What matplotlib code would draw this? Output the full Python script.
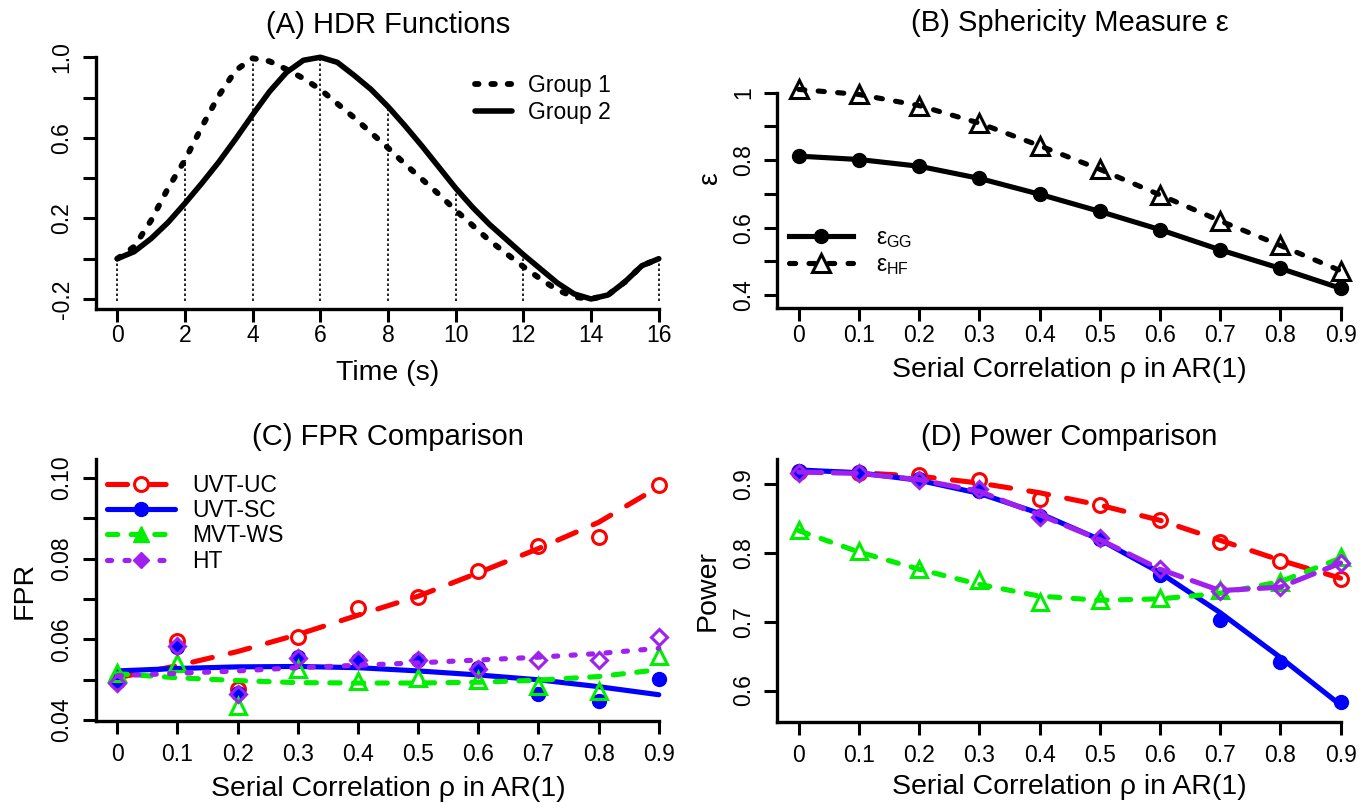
import numpy as np
import matplotlib
matplotlib.use('Agg')
import matplotlib.pyplot as plt
from matplotlib.lines import Line2D

plt.rcParams['font.family'] = ['Liberation Sans', 'DejaVu Sans']

# ---- (A) HDR functions, values read every 0.5 s ----
time_s = [0, 0.5, 1, 1.5, 2, 2.5, 3, 3.5, 4, 4.5, 5, 5.5, 6, 6.5, 7, 7.5, 8,
          8.5, 9, 9.5, 10, 10.5, 11, 11.5, 12, 12.5, 13, 13.5, 14, 14.5, 15, 15.5, 16]
group1 = [0.0, 0.06, 0.19, 0.35, 0.49, 0.655, 0.81, 0.935, 0.995, 0.98, 0.94, 0.895,
          0.84, 0.77, 0.70, 0.625, 0.55, 0.47, 0.395, 0.32, 0.24, 0.165, 0.09, 0.025,
          -0.04, -0.10, -0.155, -0.19, -0.2, -0.18, -0.115, -0.035, 0.0]
group2 = [0.0, 0.035, 0.10, 0.18, 0.275, 0.375, 0.48, 0.595, 0.715, 0.83, 0.925, 0.985,
          1.0, 0.975, 0.91, 0.84, 0.755, 0.66, 0.56, 0.455, 0.35, 0.255, 0.17, 0.095,
          0.02, -0.05, -0.12, -0.175, -0.2, -0.18, -0.115, -0.035, 0.0]
time_ticks = [0, 2, 4, 6, 8, 10, 12, 14, 16]

# ---- serial correlation grid ----
rho = [0, 0.1, 0.2, 0.3, 0.4, 0.5, 0.6, 0.7, 0.8, 0.9]
rho_labels = ['0', '0.1', '0.2', '0.3', '0.4', '0.5', '0.6', '0.7', '0.8', '0.9']

# ---- (B) sphericity ----
eps_gg = [0.812, 0.802, 0.782, 0.746, 0.699, 0.648, 0.594, 0.534, 0.479, 0.420]
eps_hf = [1.010, 0.995, 0.962, 0.910, 0.843, 0.773, 0.697, 0.620, 0.547, 0.472]

# ---- (C) FPR: observed points and smoothed curves ----
fpr_uc = [0.0497, 0.0597, 0.0477, 0.0606, 0.0679, 0.0705, 0.0770, 0.0832, 0.0853, 0.0983]
fpr_sc = [0.0500, 0.0581, 0.0467, 0.0556, 0.0548, 0.0548, 0.0530, 0.0464, 0.0448, 0.0502]
fpr_ws = [0.0518, 0.0541, 0.0436, 0.0526, 0.0497, 0.0505, 0.0499, 0.0485, 0.0472, 0.0559]
fpr_ht = [0.0493, 0.0584, 0.0464, 0.0555, 0.0548, 0.0550, 0.0526, 0.0550, 0.0548, 0.0607]
fpr_uc_fit = [0.0505, 0.0535, 0.0570, 0.0612, 0.0660, 0.0707, 0.0765, 0.0825, 0.0890, 0.0978]
fpr_sc_fit = [0.0522, 0.0528, 0.0532, 0.0533, 0.0530, 0.0522, 0.0512, 0.0500, 0.0483, 0.0463]
fpr_ws_fit = [0.0515, 0.0505, 0.0498, 0.0493, 0.0492, 0.0492, 0.0494, 0.0499, 0.0508, 0.0525]
fpr_ht_fit = [0.0510, 0.0516, 0.0522, 0.0530, 0.0536, 0.0542, 0.0549, 0.0556, 0.0565, 0.0578]

# ---- (D) power: observed points and smoothed curves ----
pow_uc = [0.917, 0.916, 0.912, 0.905, 0.878, 0.869, 0.847, 0.815, 0.788, 0.762]
pow_sc = [0.918, 0.917, 0.907, 0.890, 0.853, 0.820, 0.767, 0.702, 0.642, 0.584]
pow_ws = [0.833, 0.803, 0.777, 0.761, 0.729, 0.731, 0.735, 0.746, 0.757, 0.794]
pow_ht = [0.916, 0.916, 0.906, 0.892, 0.852, 0.821, 0.777, 0.745, 0.750, 0.785]
pow_uc_fit = [0.918, 0.916, 0.911, 0.901, 0.887, 0.869, 0.847, 0.818, 0.789, 0.763]
pow_sc_fit = [0.920, 0.916, 0.905, 0.886, 0.857, 0.819, 0.771, 0.713, 0.648, 0.579]
pow_ws_fit = [0.832, 0.801, 0.776, 0.754, 0.737, 0.731, 0.733, 0.741, 0.758, 0.792]
pow_ht_fit = [0.917, 0.915, 0.906, 0.889, 0.855, 0.819, 0.776, 0.745, 0.750, 0.785]

RED = '#FF0000'
BLUE = '#0000FF'
GREEN = '#00EE00'
PURPLE = '#A020F0'
LW = 3.7


def r_axes(ax, xlim, ylim, xticks, xlabels, yticks, ylabels, xtop, ytop, xpad):
    # R style: only left/bottom axis lines, rotated y labels
    ax.set_xlim(xlim)
    ax.set_ylim(ylim)
    for s in ['top', 'right']:
        ax.spines[s].set_visible(False)
    for s in ['left', 'bottom']:
        ax.spines[s].set_linewidth(2.4)
    ax.spines['left'].set_bounds(ylim[0], ytop)
    ax.spines['bottom'].set_bounds(xlim[0], xtop)
    ax.set_xticks(xticks, xlabels)
    ax.set_yticks(yticks, ylabels, rotation=90, va='center')
    ax.tick_params(length=9.4, width=2.2, labelsize=16.5)
    ax.tick_params(axis='x', pad=xpad)
    ax.tick_params(axis='y', pad=6.5)


fig = plt.figure(figsize=(13.68, 8.08), dpi=100)
axA = fig.add_axes([0.0699, 0.6180, 0.4275, 0.3231])
axB = fig.add_axes([0.5680, 0.6184, 0.4278, 0.3227])
axC = fig.add_axes([0.0699, 0.1077, 0.4275, 0.3243])
axD = fig.add_axes([0.5680, 0.1061, 0.4278, 0.3259])

# (A)
heights = [max(group1[time_s.index(t)], group2[time_s.index(t)]) for t in time_ticks]
axA.vlines(time_ticks, -0.21, heights, colors='black', lw=1.2, linestyles=(0, (1.5, 1.5)))
axA.plot(time_s, group1, color='black', lw=4.2, ls=(0, (0.6, 2.2)),
         dash_capstyle='round', label='Group 1')
axA.plot(time_s, group2, color='black', lw=4.0, solid_capstyle='round',
         solid_joinstyle='round', label='Group 2')
r_axes(axA, (-0.64, 16.64), (-0.248, 1.048), time_ticks, [str(t) for t in time_ticks],
       [-0.2, 0, 0.2, 0.4, 0.6, 0.8, 1.0], ['-0.2', '', '0.2', '', '0.6', '', '1.0'],
       16, 1.0, 2)
axA.set_title('(A) HDR Functions', fontsize=21, y=1.087, va='center', pad=0)
axA.set_xlabel('Time (s)', fontsize=20.5)
axA.xaxis.set_label_coords(0.5, -0.195)
axA.legend(loc='upper left', bbox_to_anchor=(0.649, 0.897), frameon=False,
           fontsize=16.5, handlelength=1.6, handletextpad=0.7, labelspacing=0.15,
           borderpad=0, borderaxespad=0)

# (B)
axB.plot(rho, eps_gg, color='black', lw=LW, marker='o', ms=10, solid_capstyle='round')
axB.plot(rho, eps_hf, color='black', lw=LW, ls=(0, (1.2, 2.6)), dash_capstyle='round',
         marker='^', ms=12.5, mfc='none', mew=2.2, clip_on=False)
r_axes(axB, (-0.036, 0.936), (0.3605, 1.134), rho, rho_labels,
       [0.4, 0.5, 0.6, 0.7, 0.8, 0.9, 1.0], ['0.4', '', '0.6', '', '0.8', '', '1'],
       0.9, 1.0, 2)
axB.set_title('(B) Sphericity Measure ε', fontsize=21, y=1.094, va='center', pad=0)
axB.set_xlabel('Serial Correlation ρ in AR(1)', fontsize=20.5)
axB.xaxis.set_label_coords(0.5, -0.188)
axB.set_ylabel('ε', fontsize=20.5)
axB.yaxis.set_label_coords(-0.092, 0.5)
hB = [Line2D([], [], color='black', lw=LW, marker='o', ms=10),
      Line2D([], [], color='black', lw=LW, ls=(0, (1.2, 2.6)), dash_capstyle='round',
             marker='^', ms=12.5, mfc='none', mew=2.2)]
axB.legend(hB, ['ε$_\\mathregular{GG}$', 'ε$_\\mathregular{HF}$'], loc='upper left',
           bbox_to_anchor=(0.0205, 0.316), frameon=False, fontsize=16.5,
           handlelength=2.8, handletextpad=1.0, labelspacing=0.15,
           borderpad=0, borderaxespad=0)

# (C) and (D)
styles = {
    'uc': dict(color=RED, ls=(0, (3.9, 3.6)), dash_capstyle='round'),
    'sc': dict(color=BLUE, ls='-', solid_capstyle='round'),
    'ws': dict(color=GREEN, ls=(0, (2.0, 2.6)), dash_capstyle='round'),
    'ht_c': dict(color=PURPLE, ls=(0, (0.8, 2.6)), dash_capstyle='round'),
    'ht_d': dict(color=PURPLE, ls=(0, (4.5, 2.2)), dash_capstyle='round'),
}
marks = {
    'uc': dict(marker='o', ms=10, mfc='none', mec=RED, mew=2.2),
    'sc': dict(marker='o', ms=10, mfc=BLUE, mec=BLUE, mew=1),
    'ws': dict(marker='^', ms=11, mfc='none', mec=GREEN, mew=2.2),
    'ht': dict(marker='D', ms=8, mfc='none', mec=PURPLE, mew=2.2),
}


def draw_panel(ax, fits, points, ht_style):
    keys = ['uc', 'sc', 'ws', 'ht']
    for k in keys:
        st = styles[ht_style] if k == 'ht' else styles[k]
        ax.plot(rho, fits[k], lw=LW, **st)
        ax.plot(rho, points[k], ls='none', clip_on=False, **marks[k])


draw_panel(axC,
           {'uc': fpr_uc_fit, 'sc': fpr_sc_fit, 'ws': fpr_ws_fit, 'ht': fpr_ht_fit},
           {'uc': fpr_uc, 'sc': fpr_sc, 'ws': fpr_ws, 'ht': fpr_ht}, 'ht_c')
r_axes(axC, (-0.036, 0.936), (0.0398, 0.1047), rho, rho_labels,
       [0.04, 0.05, 0.06, 0.07, 0.08, 0.09, 0.10], ['0.04', '', '0.06', '', '0.08', '', '0.10'],
       0.9, 0.1047, 6.5)
axC.set_title('(C) FPR Comparison', fontsize=21, y=1.084, va='center', pad=0)
axC.set_xlabel('Serial Correlation ρ in AR(1)', fontsize=20.5)
axC.xaxis.set_label_coords(0.5, -0.21)
axC.set_ylabel('FPR', fontsize=20.5)
axC.yaxis.set_label_coords(-0.099, 0.5)
hC = [Line2D([], [], lw=LW, marker='o', ms=10, mfc='white', mec=RED, mew=2.2, **styles['uc']),
      Line2D([], [], lw=LW, marker='o', ms=10, mfc=BLUE, mec=BLUE, **styles['sc']),
      Line2D([], [], lw=LW, marker='^', ms=11, mfc=GREEN, mec=GREEN, **styles['ws']),
      Line2D([], [], lw=LW, marker='D', ms=8, mfc=PURPLE, mec=PURPLE, **styles['ht_c'])]
axC.legend(hC, ['UVT-UC', 'UVT-SC', 'MVT-WS', 'HT'], loc='upper left',
           bbox_to_anchor=(0.0195, 0.943), frameon=False, fontsize=16.5,
           handlelength=2.95, handletextpad=0.77, labelspacing=0.1,
           borderpad=0, borderaxespad=0)

draw_panel(axD,
           {'uc': pow_uc_fit, 'sc': pow_sc_fit, 'ws': pow_ws_fit, 'ht': pow_ht_fit},
           {'uc': pow_uc, 'sc': pow_sc, 'ws': pow_ws, 'ht': pow_ht}, 'ht_d')
r_axes(axD, (-0.036, 0.936), (0.554, 0.936), rho, rho_labels,
       [0.6, 0.7, 0.8, 0.9], ['0.6', '0.7', '0.8', '0.9'],
       0.9, 0.936, 6.5)
axD.set_title('(D) Power Comparison', fontsize=21, y=1.082, va='center', pad=0)
axD.set_xlabel('Serial Correlation ρ in AR(1)', fontsize=20.5)
axD.xaxis.set_label_coords(0.5, -0.196)
axD.set_ylabel('Power', fontsize=20.5)
axD.yaxis.set_label_coords(-0.097, 0.5)

fig.savefig('out.png', dpi=100)
